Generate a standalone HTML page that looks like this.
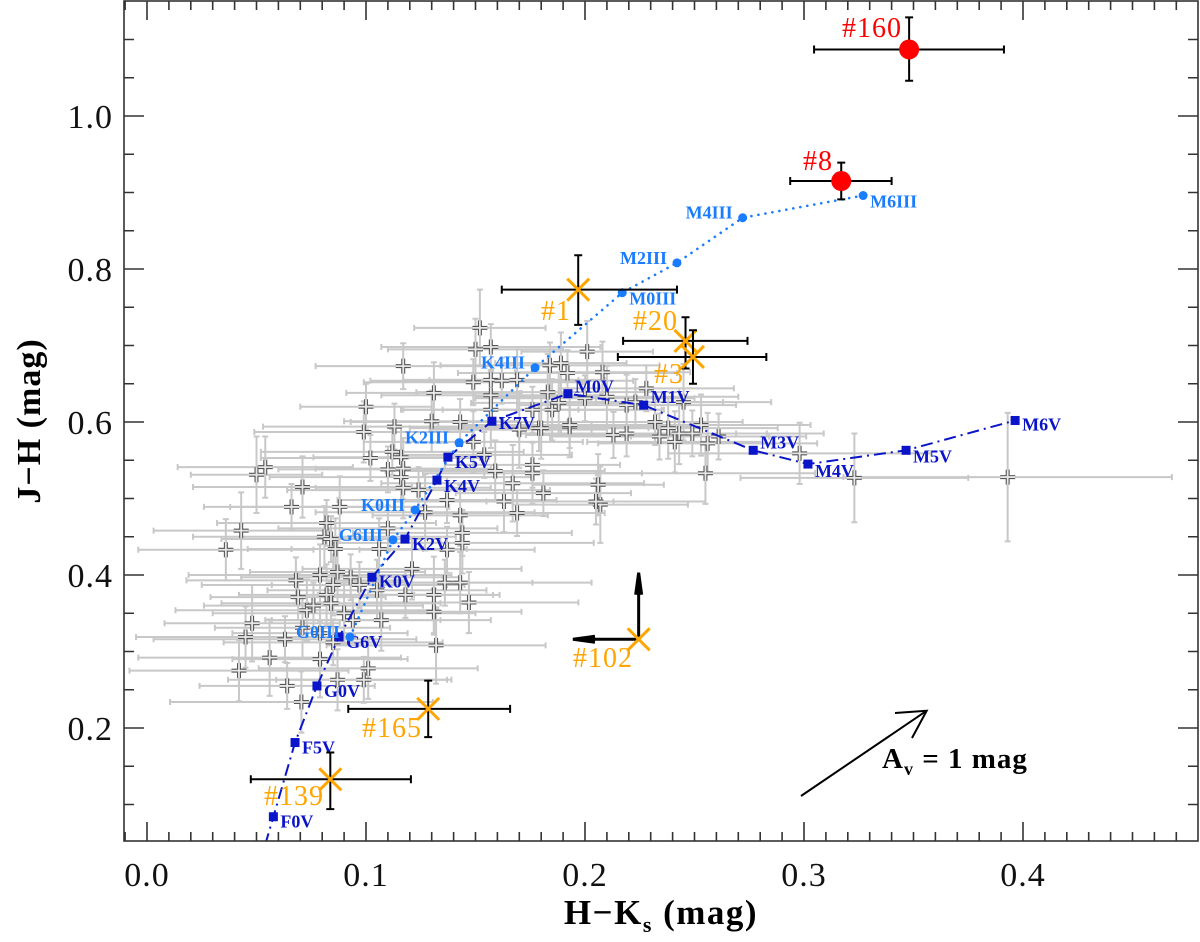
<!DOCTYPE html>
<html><head><meta charset="utf-8"><style>
html,body{margin:0;padding:0;background:#fff;}
svg{display:block;}
text{font-family:"Liberation Serif",serif;}
.lab{font-weight:bold;font-size:18px;}
.tick{font-size:34px;fill:#111;}
</style></head><body>
<svg id="chart" width="1200" height="942" viewBox="0 0 1200 942">
<defs><clipPath id="plotclip"><rect x="124" y="1" width="1074" height="840"/></clipPath></defs>
<g id="gErr" clip-path="url(#plotclip)"></g>
<g id="gPts" clip-path="url(#plotclip)"></g>
<g id="gTracks" clip-path="url(#plotclip)"></g>
<g id="gHi"></g>
<g id="gAxes"></g>
<text x="0" y="0" transform="translate(40,421) rotate(-90)" text-anchor="middle" font-size="34" font-weight="bold" letter-spacing="1">J−H (mag)</text>
<text x="661" y="924" text-anchor="middle" font-size="35" font-weight="bold" letter-spacing="1.5">H−K<tspan font-size="22" dy="8">s</tspan><tspan dy="-8"> (mag)</tspan></text>
<g>
<line x1="801" y1="796" x2="926.7" y2="710.7" stroke="#000" stroke-width="2"/>
<polyline points="895,713 926.7,710.7 912,738" fill="none" stroke="#000" stroke-width="2"/>
<text x="882" y="768" font-size="29" font-weight="bold" letter-spacing="1">A<tspan font-size="18" dy="7">v</tspan><tspan dy="-7"> = 1 mag</tspan></text>
</g>
</svg>
<script>
// ---- data ----
const grayHK=[0.152,0.150,0.157,0.117,0.201,0.149,0.157,0.162,0.169,0.184,
0.189,0.192,0.208,0.183,0.157,0.131,0.100,0.185,0.176,0.157,
0.143,0.130,0.113,0.099,0.170,0.179,0.193,0.213,0.149,0.112,
0.116,0.102,0.054,0.050,0.110,0.117,0.116,0.159,0.176,0.176,
0.167,0.181,0.163,0.169,0.206,0.207,0.205,0.071,0.124,0.117,
0.137,0.143,0.127,0.066,0.088,0.043,0.036,0.082,0.081,0.084,
0.086,0.110,0.106,0.144,0.144,0.137,0.121,0.136,0.143,0.131,
0.131,0.147,0.118,0.079,0.068,0.087,0.093,0.085,0.097,0.105,
0.069,0.073,0.076,0.082,0.084,0.090,0.094,0.107,0.048,0.045,
0.063,0.079,0.085,0.071,0.056,0.042,0.079,0.101,0.064,0.087,
0.099,0.132,0.0705,0.228,0.219,0.223,0.210,0.200,0.188,0.193,
0.180,0.232,0.238,0.245,0.253,0.249,0.243,0.234,0.241,0.219,
0.256,0.261,0.298,0.323,0.393,0.255,0.154];
const grayJH=[0.723,0.695,0.698,0.673,0.692,0.652,0.655,0.654,0.655,0.674,
0.677,0.664,0.665,0.639,0.635,0.638,0.620,0.616,0.616,0.616,
0.600,0.601,0.594,0.587,0.590,0.592,0.594,0.583,0.574,0.561,
0.554,0.553,0.541,0.531,0.538,0.539,0.528,0.536,0.544,0.533,
0.520,0.507,0.496,0.481,0.518,0.492,0.496,0.515,0.511,0.514,
0.498,0.478,0.482,0.489,0.489,0.458,0.433,0.468,0.450,0.447,
0.434,0.461,0.434,0.455,0.442,0.433,0.408,0.390,0.390,0.374,
0.352,0.364,0.374,0.400,0.393,0.404,0.397,0.387,0.387,0.380,
0.371,0.354,0.360,0.374,0.363,0.350,0.341,0.341,0.337,0.319,
0.316,0.324,0.312,0.331,0.292,0.275,0.290,0.278,0.255,0.263,
0.263,0.308,0.234,0.644,0.622,0.626,0.633,0.631,0.625,0.596,
0.592,0.600,0.592,0.626,0.596,0.585,0.585,0.581,0.574,0.585,
0.572,0.581,0.559,0.527,0.528,0.533,0.557];
const grayEHK=[0.03,0.04,0.05,0.04,0.03,0.05,0.04,0.06,0.04,0.05,
0.03,0.05,0.04,0.06,0.05,0.04,0.03,0.05,0.06,0.04,
0.05,0.04,0.06,0.05,0.04,0.05,0.06,0.04,0.05,0.06,
0.04,0.05,0.04,0.03,0.05,0.04,0.06,0.05,0.04,0.05,
0.06,0.04,0.05,0.04,0.03,0.04,0.05,0.05,0.06,0.04,
0.05,0.04,0.05,0.04,0.05,0.04,0.04,0.05,0.06,0.05,
0.04,0.05,0.04,0.05,0.06,0.04,0.05,0.04,0.06,0.03,
0.04,0.05,0.04,0.06,0.05,0.04,0.05,0.06,0.04,0.05,
0.04,0.06,0.05,0.04,0.05,0.06,0.04,0.05,0.04,0.05,
0.06,0.04,0.05,0.04,0.06,0.05,0.04,0.05,0.04,0.05,
0.04,0.05,0.06,0.04,0.05,0.04,0.06,0.05,0.04,0.05,
0.06,0.04,0.05,0.04,0.05,0.06,0.04,0.05,0.04,0.05,
0.05,0.04,0.06,0.052,0.075,0.05,0.04];
const grayEJH=[0.05,0.04,0.03,0.03,0.04,0.03,0.04,0.03,0.04,0.03,
0.04,0.03,0.04,0.05,0.03,0.04,0.03,0.04,0.03,0.05,
0.03,0.04,0.03,0.04,0.05,0.03,0.04,0.03,0.04,0.03,
0.04,0.03,0.04,0.05,0.03,0.04,0.03,0.04,0.03,0.04,
0.05,0.03,0.04,0.03,0.04,0.05,0.03,0.04,0.03,0.04,
0.03,0.04,0.05,0.03,0.04,0.05,0.04,0.03,0.04,0.03,
0.04,0.03,0.04,0.03,0.04,0.03,0.04,0.03,0.04,0.05,
0.03,0.04,0.03,0.04,0.03,0.04,0.03,0.04,0.03,0.04,
0.03,0.04,0.03,0.04,0.03,0.04,0.03,0.04,0.05,0.04,
0.03,0.04,0.03,0.04,0.05,0.04,0.05,0.04,0.03,0.04,
0.03,0.05,0.04,0.03,0.04,0.03,0.04,0.03,0.04,0.03,
0.04,0.03,0.04,0.05,0.04,0.03,0.04,0.03,0.04,0.03,
0.04,0.03,0.04,0.058,0.084,0.04,0.03];

const dwarfNames=["F0V","F5V","G0V","G6V","K0V","K2V","K4V","K5V","K7V","M0V","M1V","M3V","M4V","M5V","M6V"];
const dwarfHK=[0.0577,0.0676,0.0776,0.0877,0.1027,0.1178,0.1324,0.1374,0.1575,0.1922,0.2268,0.2768,0.3018,0.3466,0.3964];
const dwarfJH=[0.084,0.181,0.255,0.319,0.397,0.447,0.524,0.554,0.601,0.637,0.622,0.563,0.545,0.563,0.602];
const dwarfLabDY=[11,11,11,11,10,11,12,11,8,-1,-2,-2,13,12,10];

const giantNames=["G0III","G6III","K0III","K2III","K4III","M0III","M2III","M4III","M6III"];
const giantHK=[0.0927,0.1123,0.1224,0.1425,0.1772,0.2170,0.2420,0.2720,0.3270];
const giantJH=[0.319,0.446,0.485,0.573,0.671,0.769,0.808,0.867,0.896];
const giantLabSide=["left","left","left","left","left","right","left","left","right"];

const hiNames=["#160","#8","#1","#20","#3","#165","#139"];
const hiKind=["red","red","orange","orange","orange","orange","orange"];
const hiHK=[0.348,0.317,0.1969,0.2459,0.2493,0.1284,0.0837];
const hiJH=[1.087,0.915,0.773,0.706,0.685,0.225,0.133];
const hiHKlo=[0.3046,0.2937,0.162,0.2174,0.215,0.0919,0.0474];
const hiHKhi=[0.3913,0.340,0.242,0.2742,0.2828,0.1658,0.1205];
const hiJHlo=[1.046,0.891,0.727,0.67,0.65,0.188,0.094];
const hiJHhi=[1.129,0.939,0.818,0.737,0.72,0.262,0.168];
const hiLabX=[842,803,541,633,654,362,264];
const hiLabY=[37,170,320,330,383,737,805];

const limName="#102";
const limHK=0.2245, limJH=0.316, limHKmin=0.1945, limJHmax=0.403;

const xTicks=[0.0,0.1,0.2,0.3,0.4];
const xTickLabels=["0.0","0.1","0.2","0.3","0.4"];
const yTicks=[0.2,0.4,0.6,0.8,1.0];
const yTickLabels=["0.2","0.4","0.6","0.8","1.0"];

// ---- scales ----
const X=v=>147+2190*v;
const Y=v=>116+(1-v)*765;
const NS="http://www.w3.org/2000/svg";
function mk(tag,attrs,parent){const e=document.createElementNS(NS,tag);for(const k in attrs)e.setAttribute(k,attrs[k]);parent.appendChild(e);return e;}

const gErr=document.getElementById("gErr"),gPts=document.getElementById("gPts"),gTr=document.getElementById("gTracks"),gHi=document.getElementById("gHi"),gAx=document.getElementById("gAxes");

for(let i=0;i<grayHK.length;i++){
  const x=X(grayHK[i]),y=Y(grayJH[i]),x0=X(grayHK[i]-grayEHK[i]),x1=X(grayHK[i]+grayEHK[i]),y0=Y(grayJH[i]-grayEJH[i]),y1=Y(grayJH[i]+grayEJH[i]);
  const eb=mk("path",{d:`M${x0} ${y}H${x1}M${x0} ${y-3}V${y+3}M${x1} ${y-3}V${y+3}M${x} ${y0}V${y1}M${x-3} ${y0}H${x+3}M${x-3} ${y1}H${x+3}`,stroke:"#c8c8c8","stroke-width":2,fill:"none"},gErr);
  
  
  const g=mk("g",{},gPts);
  
  
  const d=`M${x-7.5} ${y}H${x+7.5}M${x} ${y-7.5}V${y+7.5}`;
  mk("path",{d:d,stroke:"#555","stroke-width":4,fill:"none"},g);
  mk("path",{d:d,stroke:"#e6e6e6","stroke-width":1.8,fill:"none"},g);
}

{
  const ext=[dwarfHK[0]+(dwarfHK[0]-dwarfHK[1]),dwarfJH[0]+(dwarfJH[0]-dwarfJH[1])];
  let d=`M${X(ext[0])} ${Y(ext[1])}`;
  for(let i=0;i<dwarfHK.length;i++)d+=`L${X(dwarfHK[i])} ${Y(dwarfJH[i])}`;
  const p=mk("path",{d:d,stroke:"#0a14c8","stroke-width":2,fill:"none","stroke-dasharray":"12 5 2 5"},gTr);
  
  
}
{
  let d="";
  for(let i=0;i<giantHK.length;i++)d+=(i?"L":"M")+X(giantHK[i])+" "+Y(giantJH[i]);
  const p=mk("path",{d:d,stroke:"#1a7cff","stroke-width":2.6,fill:"none","stroke-dasharray":"0.1 7","stroke-linecap":"round"},gTr);
  
  
}
for(let i=0;i<dwarfHK.length;i++){
  const x=X(dwarfHK[i]),y=Y(dwarfJH[i]);
  const r=mk("rect",{x:x-4.5,y:y-4.5,width:9,height:9,fill:"#0a14c8"},gHi);
  
  
  const t=mk("text",{x:x+7,y:y+dwarfLabDY[i],fill:"#0a14c8",class:"lab"},gHi);
  t.textContent=dwarfNames[i];
  
  
}
for(let i=0;i<giantHK.length;i++){
  const x=X(giantHK[i]),y=Y(giantJH[i]);
  const c=mk("circle",{cx:x,cy:y,r:4.5,fill:"#1a7cff"},gHi);
  
  
  const left=giantLabSide[i]==="left";
  const t=mk("text",{x:left?x-10:x+7,y:left?y+1:y+12,fill:"#1a7cff",class:"lab","text-anchor":left?"end":"start"},gHi);
  t.textContent=giantNames[i];
  
  
}

for(let i=0;i<hiHK.length;i++){
  const x=X(hiHK[i]),y=Y(hiJH[i]),x0=X(hiHKlo[i]),x1=X(hiHKhi[i]),y0=Y(hiJHlo[i]),y1=Y(hiJHhi[i]);
  const eb=mk("path",{d:`M${x0} ${y}H${x1}M${x0} ${y-4}V${y+4}M${x1} ${y-4}V${y+4}M${x} ${y0}V${y1}M${x-4} ${y0}H${x+4}M${x-4} ${y1}H${x+4}`,stroke:"#000","stroke-width":2,fill:"none"},gHi);
  
  
  const col=hiKind[i]==="red"?"#ff0000":"#ffa500";
  if(hiKind[i]==="red"){
    const c=mk("circle",{cx:x,cy:y,r:10,fill:col},gHi);
    
    
  }else{
    const m=mk("path",{d:`M${x-11} ${y-11}L${x+11} ${y+11}M${x-11} ${y+11}L${x+11} ${y-11}`,stroke:col,"stroke-width":3,fill:"none"},gHi);
    
    
  }
  const t=mk("text",{x:hiLabX[i],y:hiLabY[i],fill:col,"font-size":28,"letter-spacing":1},gHi);
  t.textContent=hiNames[i];
  
  
}
{
  const x=X(limHK),y=Y(limJH),xu=Y(limJHmax),xl=X(limHKmin);
  const a=mk("path",{d:`M${x} ${y}V${xu}M${x-3} ${xu+22}L${x} ${xu}L${x+3} ${xu+22}M${x} ${y}H${xl}M${xl+22} ${y-3}L${xl} ${y}L${xl+22} ${y+3}`,stroke:"#000","stroke-width":3,fill:"none"},gHi);
  
  
  const m=mk("path",{d:`M${x-11} ${y-11}L${x+11} ${y+11}M${x-11} ${y+11}L${x+11} ${y-11}`,stroke:"#ffa500","stroke-width":3,fill:"none"},gHi);
  
  
  const t=mk("text",{x:573,y:667,fill:"#ffa500","font-size":28,"letter-spacing":1},gHi);
  t.textContent=limName;
  
  
}

{
  const fr=mk("rect",{x:124,y:1,width:1074,height:840,fill:"none",stroke:"#333","stroke-width":1.6},gAx);
  
  
  let d="";
  for(let k=-1;k<=47;k++){const v=k/100,x=X(v);if(x<125||x>1197)continue;const L=(k%10===0)?19:9;d+=`M${x} 841V${841-L}M${x} 1V${1+L}`;}
  for(let k=2;k<=23;k++){const v=k*0.05,y=Y(v);if(y<2||y>840)continue;const L=(k%4===0)?20:10;d+=`M124 ${y}H${124+L}M1198 ${y}H${1198-L}`;}
  const tk=mk("path",{d:d,stroke:"#333","stroke-width":1.6,fill:"none"},gAx);
  
  
  for(let i=0;i<xTicks.length;i++){
    const t=mk("text",{x:X(xTicks[i]),y:886,"text-anchor":"middle",class:"tick","letter-spacing":1},gAx);
    t.textContent=xTickLabels[i];
    
    
  }
  for(let i=0;i<yTicks.length;i++){
    const t=mk("text",{x:113,y:Y(yTicks[i])+12,"text-anchor":"end",class:"tick","letter-spacing":1},gAx);
    t.textContent=yTickLabels[i];
    
    
  }
}
</script>
</body></html>
